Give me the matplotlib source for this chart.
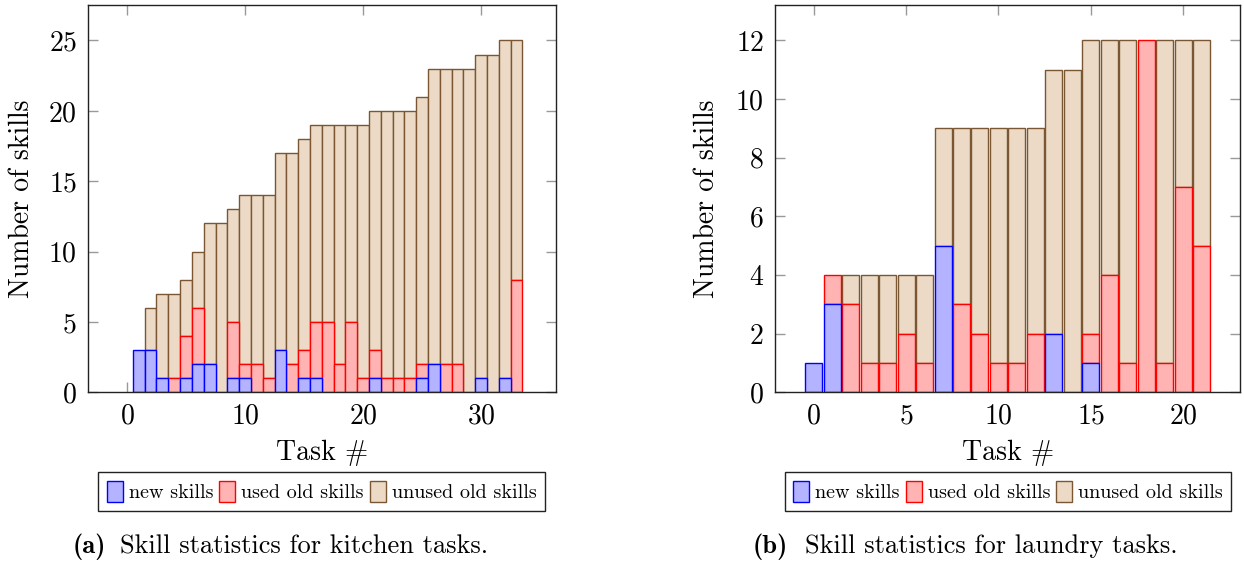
import matplotlib
matplotlib.use("Agg")
import matplotlib.pyplot as plt
from matplotlib.patches import Patch
import numpy as np

plt.rcParams['font.family'] = ['cmr10', 'DejaVu Serif']
plt.rcParams['axes.formatter.use_mathtext'] = True
plt.rcParams['mathtext.fontset'] = 'cm'

# ---------------- data ----------------
kitchen_tasks = list(range(34))
kitchen_new = [0, 3, 3, 1, 0, 1, 2, 2, 0, 1, 1, 0, 0, 3, 0, 1, 1, 0, 0, 0,
               0, 1, 0, 0, 0, 1, 2, 0, 0, 0, 1, 0, 1, 0]
kitchen_used = [0, 0, 0, 0, 1, 3, 4, 0, 0, 4, 1, 2, 1, 0, 2, 2, 4, 5, 2, 5,
                1, 2, 1, 1, 1, 1, 0, 2, 2, 0, 0, 0, 0, 8]
kitchen_unused = [0, 0, 3, 6, 6, 4, 4, 10, 12, 8, 12, 12, 13, 14, 15, 15, 14, 14, 17, 14,
                  18, 17, 19, 19, 19, 19, 21, 21, 21, 23, 23, 24, 24, 17]

laundry_tasks = list(range(22))
laundry_new = [1, 3, 0, 0, 0, 0, 0, 5, 0, 0, 0, 0, 0, 2, 0, 1, 0, 0, 0, 0, 0, 0]
laundry_used = [0, 1, 3, 1, 1, 2, 1, 0, 3, 2, 1, 1, 2, 0, 0, 1, 4, 1, 12, 1, 7, 5]
laundry_unused = [0, 0, 1, 3, 3, 2, 3, 4, 6, 7, 8, 8, 7, 9, 11, 10, 8, 11, 0, 11, 5, 7]

series_labels = ["new skills", "used old skills", "unused old skills"]
face_colors = ["#b3b3ff", "#ffb3b3", "#ecdac6"]
edge_colors = ["#0000ff", "#ff0000", "#7a5632"]
layer_order = [3, 2, 1]

W, H = 1244, 563
fig = plt.figure(figsize=(W / 100, H / 100), dpi=100)


def px_axes(x0, x1, y0, y1):
    return fig.add_axes([x0 / W, 1 - y1 / H, (x1 - x0) / W, (y1 - y0) / H])


def draw(ax, tasks, new, used, unused, width, xlim, ylim, xticks, yticks):
    x = np.array(tasks, dtype=float)
    vals = [np.array(new, float), np.array(used, float), np.array(unused, float)]
    bottom = np.zeros_like(x)
    for v, fc, ec, z in zip(vals, face_colors, edge_colors, layer_order):
        m = v > 0
        ax.bar(x[m], v[m], bottom=bottom[m], width=width, color=fc,
               edgecolor=ec, linewidth=1.0, zorder=z)
        bottom = bottom + v
    ax.set_xlim(*xlim)
    ax.set_ylim(*ylim)
    ax.set_xticks(xticks)
    ax.set_yticks(yticks)
    ax.tick_params(direction='in', length=7, width=1.0, color='#999999',
                   top=True, right=True, labelsize=20, pad=8)
    for s in ax.spines.values():
        s.set_color('#222222')
        s.set_linewidth(1.0)
        s.set_zorder(4)


ax1 = px_axes(88, 555.5, 5.3, 392.3)
draw(ax1, kitchen_tasks, kitchen_new, kitchen_used, kitchen_unused, 1.0,
     (-3.3, 36.3), (0, 27.5), [0, 10, 20, 30], [0, 5, 10, 15, 20, 25])

ax2 = px_axes(775, 1240.3, 5.3, 392.3)
draw(ax2, laundry_tasks, laundry_new, laundry_used, laundry_unused, 0.92,
     (-2.1, 23.1), (0, 13.2), [0, 5, 10, 15, 20], [0, 2, 4, 6, 8, 10, 12])

# axis labels
for cx, ycx in [(321.7, 22), (1007.6, 707)]:
    fig.text(cx / W, 1 - 460 / H, "Task #", ha='center', va='baseline', fontsize=20)
    fig.text(ycx / W, 1 - 198.8 / H, "Number of skills", ha='center', va='center',
             rotation=90, fontsize=20)

# legends
handles = [Patch(facecolor=fc, edgecolor=ec, linewidth=1.0)
           for fc, ec in zip(face_colors, edge_colors)]
for cx in [321.7, 1008]:
    leg = fig.legend(handles, series_labels, loc='center', ncol=3,
                     bbox_to_anchor=(cx / W, 1 - 491.5 / H),
                     fontsize=14.5, handlelength=0.8, handleheight=1.3,
                     handletextpad=0.3, columnspacing=0.3, borderpad=0.4,
                     fancybox=False, framealpha=1, edgecolor='#222222',
                     borderaxespad=0)
    leg.get_frame().set_linewidth(1.0)

# captions
fig.text(106 / W, 1 - 553 / H, "(a)", ha='right', va='baseline', fontsize=19,
         family=['cmb10', 'DejaVu Serif'])
fig.text(120 / W, 1 - 553 / H, "Skill statistics for kitchen tasks.", ha='left',
         va='baseline', fontsize=19)
fig.text(788 / W, 1 - 553 / H, "(b)", ha='right', va='baseline', fontsize=19,
         family=['cmb10', 'DejaVu Serif'])
fig.text(805 / W, 1 - 553 / H, "Skill statistics for laundry tasks.", ha='left',
         va='baseline', fontsize=19)

fig.savefig("out.png", dpi=100)
